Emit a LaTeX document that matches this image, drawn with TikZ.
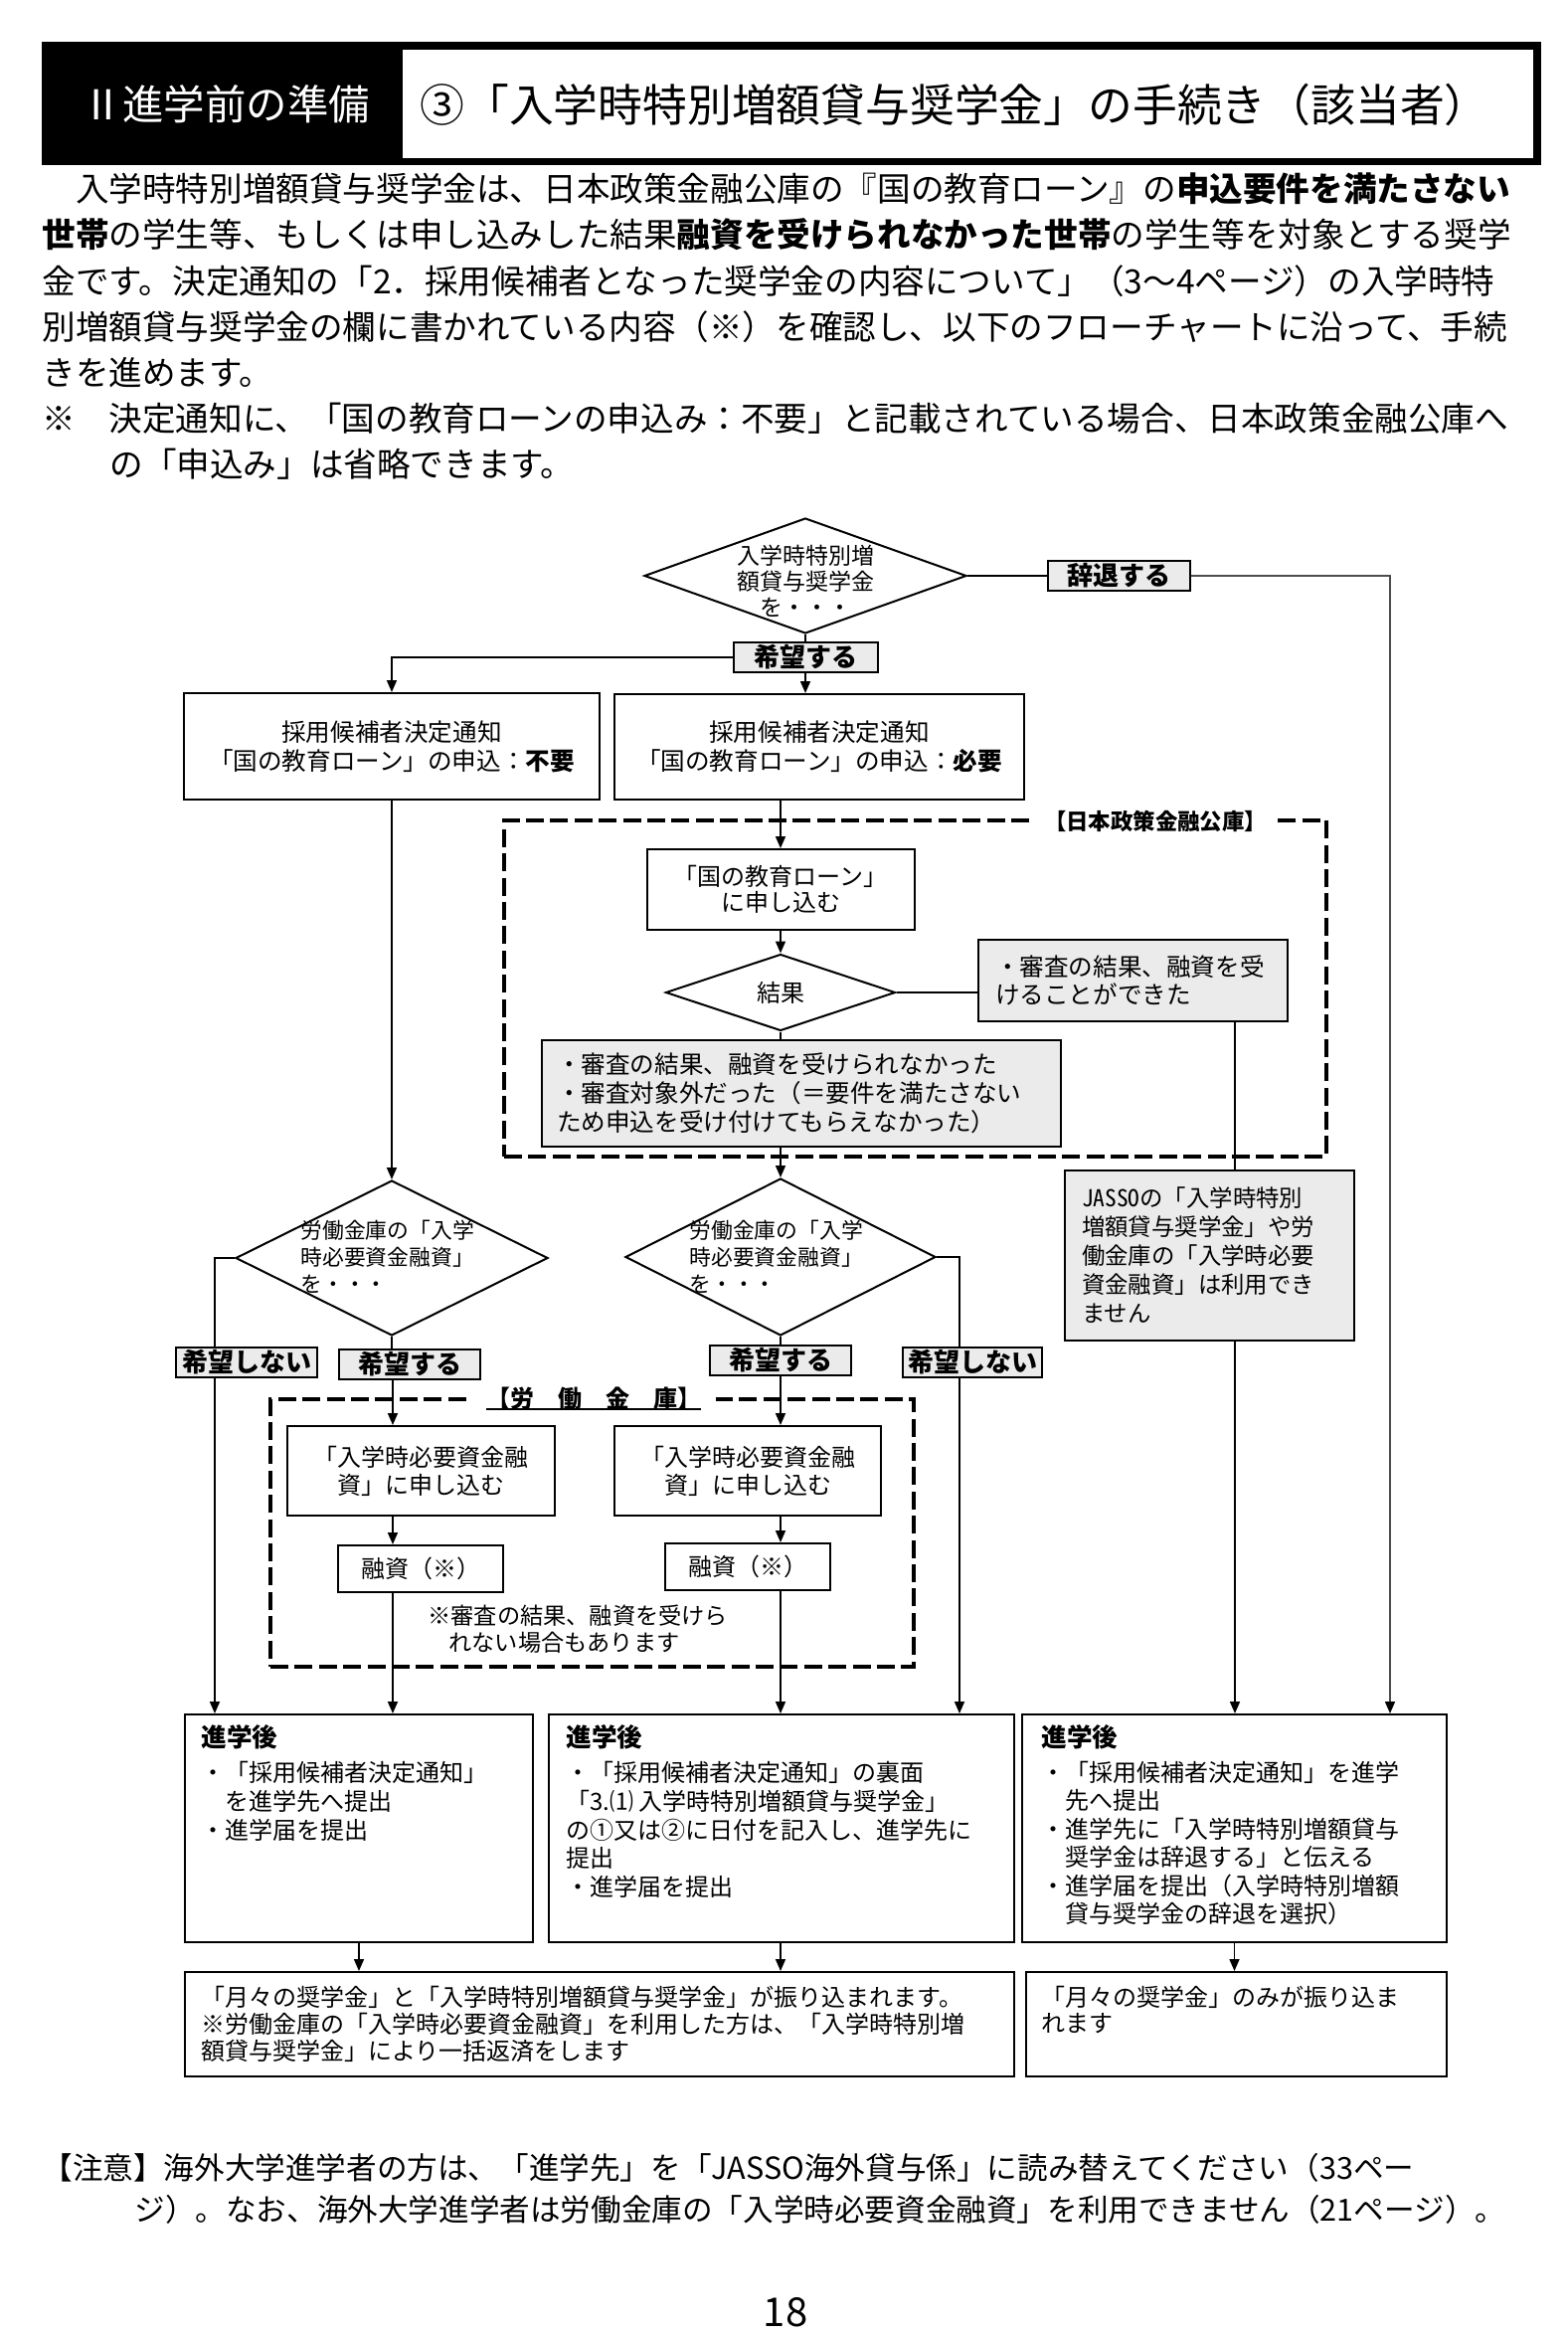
\documentclass[tikz,border=0pt]{standalone}
\usepackage{fontspec}
\setmainfont{Noto Sans CJK JP}
\usetikzlibrary{shapes.geometric,arrows.meta,calc}
\pgfdeclarelayer{bg}
\pgfsetlayers{bg,main}
\newcommand\fs[2]{\fontsize{#1pt}{#2pt}\selectfont}
\newcommand\mytl[5][]{\node[tline,#1] (#2) at (#3,#4) {#5};}
\begin{document}
\begin{tikzpicture}[x=0.5pt,y=-0.5pt,
  tline/.style={anchor=west,inner sep=0pt},
  bx/.style={draw,line width=1pt,inner sep=0pt,fill=white},
  gbx/.style={draw,line width=1pt,inner sep=0pt,fill=black!8},
  lbl/.style={draw,line width=1pt,fill=black!8,inner sep=0pt,minimum height=15pt,minimum width=71pt,font=\fs{13}{15}\bfseries},
  dia/.style={diamond,draw,line width=1pt,inner sep=0pt,fill=white},
  frame/.style={draw,line width=2.2pt,dash pattern=on 9pt off 3.2pt,inner sep=0pt},
  con/.style={line width=0.8pt},
  arr/.style={line width=0.8pt,-{Triangle[length=6pt,width=5pt]}},
  para/.style={font=\fs{16.8}{20}},
  bt/.style={font=\fs{12}{14}},
  bh/.style={font=\fs{12.8}{15}\bfseries},
]
\useasboundingbox (0,0) rectangle (1576,2348);

% header
\fill[black] (42,42) rectangle (1550,166);
\fill[white] (405,50) rectangle (1542,159);
\node[font=\fs{20.7}{24},text=white] (ttlL) at (227,105) {Ⅱ進学前の準備};
\node[font=\fs{22.4}{26}] (ttlR) at (960,105) {③「入学時特別増額貸与奨学金」の手続き（該当者）};

% paragraph
\mytl[para]{p1}{42}{190}{　入学時特別増額貸与奨学金は、日本政策金融公庫の『国の教育ローン』の\textbf{申込要件を満たさない}}
\mytl[para]{p2}{42}{236}{\textbf{世帯}の学生等、もしくは申し込みした結果\textbf{融資を受けられなかった世帯}の学生等を対象とする奨学}
\mytl[para]{p3}{42}{282.5}{金です。決定通知の「2．採用候補者となった奨学金の内容について」（3～4ページ）の入学時特}
\mytl[para]{p4}{42}{328.5}{別増額貸与奨学金の欄に書かれている内容（※）を確認し、以下のフローチャートに沿って、手続}
\mytl[para]{p5}{42}{375}{きを進めます。}
\mytl[para]{p6}{42}{421}{※　決定通知に、「国の教育ローンの申込み：不要」と記載されている場合、日本政策金融公庫へ}
\mytl[para]{p7}{110}{467}{の「申込み」は省略できます。}

% coordinates for vertical connector lines
\coordinate (xa) at (216,0);
\coordinate (xb) at (395,0);
\coordinate (xd) at (965,0);
\coordinate (xe) at (1242,0);
\coordinate (xf) at (1398,0);

% top decision
\node[dia,minimum width=162pt,minimum height=58pt] (d1) at (810,579) {};
\node[font=\fs{11.5}{13},align=center] (d1t) at (810,584) {入学時特別増\\額貸与奨学金\\を・・・};
\node[lbl,minimum width=71.5pt] (jitai) at (1125,579) {辞退する};
\node[lbl,minimum width=72.5pt] (kib0) at (810,661) {希望する};

\node[bx,minimum width=209pt,minimum height=53.5pt,font=\fs{12.3}{14.5},align=center] (boxF) at (394,750.5) {採用候補者決定通知\\「国の教育ローン」の申込：\textbf{不要}};
\node[bx,minimum width=206pt,minimum height=53pt,font=\fs{12.3}{14.5},align=center] (boxH) at (824,751) {採用候補者決定通知\\「国の教育ローン」の申込：\textbf{必要}};

% JFC frame
\node[frame,minimum width=413.5pt,minimum height=169pt] (jfc) at (920.5,994) {};
\node[fill=white,inner xsep=5.5pt,inner ysep=1pt,font=\fs{11.2}{13}\bfseries] (jfcl) at (1162,826) {【日本政策金融公庫】};
\node[bx,minimum width=134.5pt,minimum height=40.5pt,font=\fs{12}{13},align=center] (apply) at (785,894.5) {「国の教育ローン」\\に申し込む};
\node[dia,minimum width=115.5pt,minimum height=38.5pt,font=\fs{12}{14}] (d2) at (785,998) {結果};
\node[gbx,minimum width=155.5pt,minimum height=41pt,text width=138.5pt,align=left,font=\fs{12.3}{14}] (ok) at (1139.5,986) {・審査の結果、融資を受\\けることができた};
\node[gbx,minimum width=261pt,minimum height=53.5pt,text width=246pt,align=left,font=\fs{12.3}{14.5}] (ng) at (806,1099.5) {・審査の結果、融資を受けられなかった\\・審査対象外だった（＝要件を満たさない\\ため申込を受け付けてもらえなかった）};

% rokin decisions
\node[dia,minimum width=157pt,minimum height=78pt] (d3) at (394,1265) {};
\node[tline,align=left,font=\fs{10.9}{13.5}] (d3t) at (302,1264) {労働金庫の「入学\\時必要資金融資」\\を・・・};
\node[dia,minimum width=156pt,minimum height=79pt] (d4) at (785,1264) {};
\node[tline,align=left,font=\fs{10.9}{13.5}] (d4t) at (693,1264) {労働金庫の「入学\\時必要資金融資」\\を・・・};

\node[lbl] (noL) at (248,1370) {希望しない};
\node[lbl] (yesL) at (412,1372) {希望する};
\node[lbl] (yesR) at (785,1368) {希望する};
\node[lbl,minimum width=70pt] (noR) at (978,1370) {希望しない};

\node[gbx,minimum width=145.5pt,minimum height=85.5pt,text width=128.5pt,align=left,font=\fs{11.7}{14.5}] (jasso) at (1216.5,1262.5) {{\addfontfeature{RawFeature=+hwid}JASSO}の「入学時特別\\増額貸与奨学金」や労\\働金庫の「入学時必要\\資金融資」は利用でき\\ません};

% rokin frame
\node[frame,minimum width=323.5pt,minimum height=134.5pt] (rk) at (595.5,1541.5) {};
\node[fill=white,inner xsep=7.5pt,inner ysep=1pt,font=\fs{12}{14}\bfseries] (rkl) at (597,1406) {【労　働　金　庫】};
\draw[line width=1pt] ($(rkl.center)+(-108,11)$) -- ($(rkl.center)+(108,11)$);
\node[bx,minimum width=134.5pt,minimum height=45pt,align=center,font=\fs{12}{14}] (loanL) at (423.5,1479) {「入学時必要資金融\\資」に申し込む};
\node[bx,minimum width=134pt,minimum height=45pt,align=center,font=\fs{12}{14}] (loanR) at (752,1479) {「入学時必要資金融\\資」に申し込む};
\node[bx,minimum width=83pt,minimum height=23.5pt,font=\fs{12}{14}] (fusiL) at (423,1577.5) {融資（※）};
\node[bx,minimum width=83pt,minimum height=23.5pt,font=\fs{12}{14}] (fusiR) at (752,1575.5) {融資（※）};
\node[tline,align=left,font=\fs{11.6}{13.5}] (note) at (430,1638.5) {※審査の結果、融資を受けら\\\hspace*{10.5pt}れない場合もあります};

% after-entrance boxes
\node[bx,minimum width=175pt,minimum height=114.5pt] (after1) at (361,1838.5) {};
\node[bx,minimum width=234pt,minimum height=114.5pt] (after2) at (786,1838.5) {};
\node[bx,minimum width=213.5pt,minimum height=114.5pt] (after3) at (1241.5,1838.5) {};
\node[bx,minimum width=417pt,minimum height=52.5pt] (final1) at (603,2035.5) {};
\node[bx,minimum width=211.5pt,minimum height=52.5pt] (final2) at (1243.5,2035.5) {};

\mytl[bh]{a1h}{202}{1747}{進学後}
\mytl[bt]{a1a}{202}{1782}{・「採用候補者決定通知」}
\mytl[bt]{a1b}{202}{1811}{　を進学先へ提出}
\mytl[bt]{a1c}{202}{1840}{・進学届を提出}

\mytl[bh]{a2h}{569}{1747}{進学後}
\mytl[bt]{a2a}{569}{1782}{・「採用候補者決定通知」の裏面}
\mytl[bt]{a2b}{569}{1811}{「3.⑴ 入学時特別増額貸与奨学金」}
\mytl[bt]{a2c}{569}{1840}{の①又は②に日付を記入し、進学先に}
\mytl[bt]{a2d}{569}{1868}{提出}
\mytl[bt]{a2e}{569}{1897}{・進学届を提出}

\mytl[bh]{a3h}{1047}{1747}{進学後}
\mytl[bt]{a3a}{1047}{1782}{・「採用候補者決定通知」を進学}
\mytl[bt]{a3b}{1047}{1810.5}{　先へ提出}
\mytl[bt]{a3c}{1047}{1839}{・進学先に「入学時特別増額貸与}
\mytl[bt]{a3d}{1047}{1867.5}{　奨学金は辞退する」と伝える}
\mytl[bt]{a3e}{1047}{1896}{・進学届を提出（入学時特別増額}
\mytl[bt]{a3f}{1047}{1924.5}{　貸与奨学金の辞退を選択）}

\mytl[bt]{f1a}{202}{2008}{「月々の奨学金」と「入学時特別増額貸与奨学金」が振り込まれます。}
\mytl[bt]{f1b}{202}{2035}{※労働金庫の「入学時必要資金融資」を利用した方は、「入学時特別増}
\mytl[bt]{f1c}{202}{2062}{額貸与奨学金」により一括返済をします}
\mytl[bt]{f2a}{1047}{2008}{「月々の奨学金」のみが振り込ま}
\mytl[bt]{f2b}{1047}{2035}{れます}

% footer
\mytl[font=\fs{15.3}{18}]{n1}{42}{2180}{【注意】海外大学進学者の方は、「進学先」を「JASSO海外貸与係」に読み替えてください（33ペー}
\mytl[font=\fs{15.3}{18}]{n2}{135}{2222}{ジ）。なお、海外大学進学者は労働金庫の「入学時必要資金融資」を利用できません（21ページ）。}
\node[font=\fs{20}{24}] (pg) at (790,2325) {18};

% connectors (background layer, below the boxes)
\begin{pgfonlayer}{bg}
\fill[white] (0,0) rectangle (1576,2348);
\draw[con] (d1.east) -- (jitai.west);
\draw[con,draw=black!70,-{Triangle[length=6pt,width=5pt,color=black]}] (jitai.east) -- (jitai.east -| xf) -- (xf |- after3.north);
\draw[con] (d1.south) -- (kib0.north);
\draw[arr] (kib0.south) -- (kib0.south |- boxH.north);
\draw[arr] (kib0.west) -| (boxF.north);
\draw[arr] (boxH.south -| apply.north) -- (apply.north);
\draw[arr] (apply.south) -- (d2.north);
\draw[con] (d2.east) -- (d2.east -| ok.west);
\draw[con] (d2.south) -- (d2.south |- ng.north);
\draw[arr] (ng.south -| d4.north) -- (d4.north);
\draw[con] (ok.south -| xe) -- (jasso.north -| xe);
\draw[arr] (jasso.south -| xe) -- (after3.north -| xe);
\draw[arr] (boxF.south) -- (d3.north);
\draw[arr] (d3.west) -- (d3.west -| xa) -- (xa |- after1.north);
\draw[con] (d3.south) -- (d3.south |- yesL.north);
\draw[arr] (yesL.south -| xb) -- (loanL.north -| xb);
\draw[arr] (loanL.south -| xb) -- (fusiL.north -| xb);
\draw[arr] (fusiL.south -| xb) -- (after1.north -| xb);
\draw[con] (d4.south) -- (yesR.north);
\draw[arr] (yesR.south) -- (yesR.south |- loanR.north);
\draw[arr] (loanR.south -| yesR.south) -- (fusiR.north -| yesR.south);
\draw[arr] (fusiR.south -| yesR.south) -- (after2.north -| yesR.south);
\draw[arr] (d4.east) -- (d4.east -| xd) -- (xd |- after2.north);
\draw[arr] (after1.south) -- (after1.south |- final1.north);
\draw[arr] (after2.south -| yesR.south) -- (final1.north -| yesR.south);
\draw[arr] (after3.south) -- (after3.south |- final2.north);
\end{pgfonlayer}
\end{tikzpicture}
\end{document}
